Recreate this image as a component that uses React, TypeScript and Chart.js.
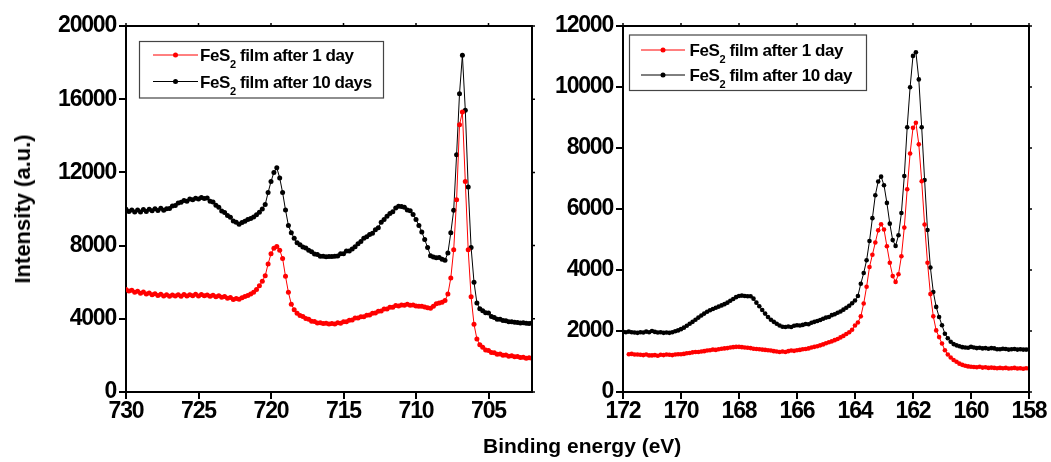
import React, { useEffect, useRef } from 'react';
import { Chart, registerables } from 'chart.js';

Chart.register(...registerables);

const FONT = '"Liberation Sans", Arial, Helvetica, sans-serif';

// ---------- Data: Fe 2p region (left), energy grid 730 -> 702 eV, 0.2 eV step ----------
const LEFT_ENERGY_START = 730;
const LEFT_ENERGY_STEP = 0.2;
const LEFT_X_TICKS = [730, 725, 720, 715, 710, 705];
const LEFT_Y_TICKS = [0, 4000, 8000, 12000, 16000, 20000];

const leftDay1 = [
  5600, 5520, 5560, 5450, 5500, 5400, 5460, 5360, 5410, 5320,
  5370, 5280, 5340, 5250, 5320, 5230, 5300, 5250, 5310, 5230,
  5330, 5250, 5320, 5260, 5340, 5250, 5330, 5260, 5300, 5230,
  5290, 5200, 5260, 5180, 5220, 5120, 5160, 5060, 5110, 5070,
  5150, 5220, 5280, 5360, 5450, 5600, 5800, 6050, 6350, 7000,
  7550, 7850, 7950, 7750, 7300, 6320, 5450, 4800, 4500, 4300,
  4180, 4120, 4010, 3970, 3860, 3850, 3770, 3790, 3740, 3760,
  3710, 3750, 3720, 3780, 3760, 3840, 3840, 3920, 3930, 4040,
  4040, 4110, 4110, 4200, 4210, 4300, 4320, 4410, 4430, 4540,
  4540, 4630, 4630, 4720, 4700, 4760, 4740, 4790, 4740, 4760,
  4700, 4690, 4680, 4640, 4600, 4580, 4680, 4820, 4860, 4900,
  5000, 5350, 6230, 7780, 10500, 14600, 15300, 11500, 7780, 5200,
  3700, 2900, 2580, 2440, 2300, 2270, 2160, 2140, 2060, 2070,
  2010, 2020, 1960, 1980, 1920, 1940, 1880, 1900, 1850, 1870,
  1840,
];

const leftDay10 = [
  9980, 9870, 9950, 9840, 9940, 9830, 9970, 9870, 9990, 9900,
  10020, 9920, 10040, 9930, 10010, 10030, 10160, 10190, 10330, 10370,
  10470, 10430, 10540, 10500, 10590, 10540, 10630, 10580, 10600, 10420,
  10380, 10200, 10090, 9890, 9810, 9650, 9550, 9350, 9280, 9170,
  9260, 9330, 9420, 9480, 9560, 9680, 9820, 10000, 10240, 10900,
  11500, 12000, 12250, 11700, 10900, 9950, 9100, 8700, 8400, 8150,
  8050, 7920, 7870, 7740, 7670, 7540, 7520, 7420, 7420, 7390,
  7400, 7400, 7420, 7430, 7550, 7560, 7710, 7710, 7820, 7940,
  8100, 8230, 8400, 8480, 8610, 8680, 8870, 8980, 9270, 9430,
  9600, 9750, 9850, 10050, 10150, 10140, 10100, 9950, 9900, 9700,
  9420, 9100, 8750, 8330, 7900, 7450, 7380, 7330, 7350, 7260,
  7200, 7600, 8700, 9930, 12970, 16300, 18400, 15400, 11200, 7900,
  6000, 4870, 4550, 4440, 4330, 4320, 4130, 4070, 3980, 3980,
  3910, 3900, 3840, 3840, 3810, 3800, 3770, 3780, 3760, 3750,
  3770,
];

// ---------- Data: S 2p region (right), energy grid 172 -> 158 eV, 0.1 eV step ----------
const RIGHT_ENERGY_START = 172;
const RIGHT_ENERGY_STEP = 0.1;
const RIGHT_X_TICKS = [172, 170, 168, 166, 164, 162, 160, 158];
const RIGHT_Y_TICKS = [0, 2000, 4000, 6000, 8000, 10000, 12000];

const rightDay1 = [
  null, null, 1240, 1250, 1230, 1230, 1220, 1210, 1230, 1200,
  1200, 1210, 1190, 1220, 1210, 1230, 1220, 1210, 1230, 1240,
  1240, 1250, 1270, 1280, 1300, 1310, 1310, 1330, 1340, 1360,
  1370, 1390, 1380, 1400, 1420, 1430, 1440, 1460, 1470, 1480,
  1480, 1470, 1460, 1450, 1440, 1420, 1410, 1400, 1390, 1380,
  1370, 1360, 1340, 1330, 1310, 1330, 1310, 1340, 1360, 1350,
  1370, 1380, 1400, 1410, 1430, 1460, 1480, 1500, 1530, 1560,
  1600, 1630, 1660, 1700, 1740, 1790, 1840, 1900, 1960, 2040,
  2180, 2280, 2480, 2900, 3450, 4100, 4500, 4900, 5300, 5500,
  5330, 4780, 4240, 3800, 3610, 3860, 4450, 5390, 6650, 7820,
  8660, 8830, 8120, 6910, 5490, 4240, 3210, 2480, 2020, 1800,
  1590, 1370, 1230, 1130, 1050, 990, 930, 890, 860, 840,
  830, 820, 810, 830, 800, 810, 790, 800, 790, 780,
  790, 780, 790, 770, 780, 790, 770, 780, 760, 780,
  770,
];

const rightDay10 = [
  1970, 1960, 1980, 1960, 1950, 1940, 1960, 1950, 1980, 1960,
  2000, 1970, 1950, 1960, 1940, 1950, 1940, 1960, 1990, 2020,
  2060, 2110, 2170, 2240, 2300, 2370, 2440, 2510, 2570, 2630,
  2680, 2720, 2760, 2800, 2840, 2880, 2930, 2990, 3050, 3110,
  3150, 3160, 3150, 3140, 3140, 3060, 2930, 2810, 2690, 2570,
  2460, 2370, 2300, 2240, 2180, 2140, 2130, 2150, 2130, 2170,
  2190, 2180, 2200, 2230, 2220, 2270, 2300, 2330, 2360, 2400,
  2440, 2460, 2520, 2550, 2600, 2640, 2700, 2760, 2830, 2910,
  3000, 3150, 3550, 3900, 4320, 4950, 5700, 6450, 6900, 7060,
  6780, 6200, 5520, 4980, 4790, 5140, 5870, 7080, 8680, 9990,
  11020, 11140, 10250, 8680, 6950, 5310, 4080, 3280, 2790, 2460,
  2190, 1910, 1760, 1650, 1570, 1530, 1500, 1470, 1460, 1450,
  1480, 1460, 1440, 1450, 1430, 1440, 1420, 1440, 1430, 1400,
  1400, 1420, 1410, 1390, 1400, 1410, 1390, 1400, 1390, 1390,
  1390,
];

const LEFT_LABELS = ['FeS2 film after 1 day', 'FeS2 film after 10 days'];
const RIGHT_LABELS = ['FeS2 film after 1 day', 'FeS2 film after 10 day'];
const SERIES_COLORS = ['#ff0000', '#000000'];
const Y_TITLE = 'Intensity (a.u.)';
const X_TITLE = 'Binding energy (eV)';

function makePoints(values: (number | null)[], start: number, step: number) {
  return values
    .map((v, i) => ({ x: Math.round((start - i * step) * 100) / 100, y: v }))
    .filter((p) => p.y !== null);
}

type LegendCfg = {
  x: number; y: number; w: number; h: number;
  lineX0: number; lineX1: number; textX: number; rows: number[];
  labels: string[];
};

function makeFramePlugin(legend: LegendCfg) {
  return {
    id: 'frameAndLegend',
    beforeDraw(chart: any) {
      // condensed look of the tick digits
      (chart.ctx as any).letterSpacing = '-1.2px';
    },
    afterDraw(chart: any) {
      const { ctx, chartArea: a } = chart;
      const xs = chart.scales.x;
      const ys = chart.scales.y;
      ctx.save();
      (ctx as any).letterSpacing = '0px';
      // top & right frame
      ctx.strokeStyle = '#000';
      ctx.lineWidth = 2;
      ctx.beginPath();
      ctx.moveTo(a.left - 1, a.top);
      ctx.lineTo(a.right, a.top);
      ctx.lineTo(a.right, a.bottom + 1);
      ctx.stroke();
      // small mirror ticks
      ctx.lineWidth = 1.5;
      ctx.beginPath();
      ys.ticks.forEach((t: any) => {
        const y = ys.getPixelForValue(t.value);
        ctx.moveTo(a.right, y);
        ctx.lineTo(a.right + 3, y);
      });
      xs.ticks.forEach((t: any) => {
        const x = xs.getPixelForValue(t.value);
        ctx.moveTo(x, a.top);
        ctx.lineTo(x, a.top - 3);
      });
      ctx.stroke();

      // legend box
      ctx.fillStyle = '#fff';
      ctx.fillRect(legend.x, legend.y, legend.w, legend.h);
      ctx.strokeStyle = '#444';
      ctx.lineWidth = 1.2;
      ctx.strokeRect(legend.x, legend.y, legend.w, legend.h);
      legend.labels.forEach((label, i) => {
        const cy = legend.rows[i];
        const color = SERIES_COLORS[i];
        ctx.strokeStyle = color;
        ctx.lineWidth = 1;
        ctx.beginPath();
        ctx.moveTo(legend.lineX0, cy);
        ctx.lineTo(legend.lineX1, cy);
        ctx.stroke();
        ctx.fillStyle = color;
        ctx.beginPath();
        ctx.arc((legend.lineX0 + legend.lineX1) / 2, cy, 2.5, 0, Math.PI * 2);
        ctx.fill();
        // text with subscript 2
        const main = label.slice(0, 3);
        const sub = label.slice(3, 4);
        const rest = label.slice(4);
        const base = cy + 6.3;
        ctx.fillStyle = '#000';
        ctx.textBaseline = 'alphabetic';
        ctx.textAlign = 'left';
        (ctx as any).letterSpacing = '-0.4px';
        let x = legend.textX;
        ctx.font = `bold 17px ${FONT}`;
        ctx.fillText(main, x, base);
        x += ctx.measureText(main).width;
        ctx.font = `bold 11px ${FONT}`;
        ctx.fillText(sub, x, base + 7);
        x += ctx.measureText(sub).width;
        ctx.font = `bold 17px ${FONT}`;
        ctx.fillText(rest, x, base);
      });
      ctx.restore();
    },
  };
}

function axisCommon(ticks: number[]) {
  return {
    type: 'linear' as const,
    afterBuildTicks: (s: any) => {
      s.ticks = ticks.map((v) => ({ value: v }));
    },
    grid: {
      display: true,
      drawOnChartArea: false,
      drawTicks: true,
      tickLength: 7,
      color: '#000',
      lineWidth: 2,
    },
    border: { display: true, color: '#000', width: 2 },
  };
}

function buildConfig(opts: {
  day1: (number | null)[]; day10: (number | null)[];
  start: number; step: number;
  xMin: number; xMax: number; xTicks: number[];
  yMax: number; yTicks: number[];
  yAxisWidth: number; padRight: number;
  labels: string[]; pointRadius: number;
  legend: LegendCfg;
}) {
  const tickFont = { family: FONT, size: 23, weight: 'bold' as const };
  return {
    type: 'line' as const,
    data: {
      datasets: [opts.day1, opts.day10].map((vals, i) => ({
        label: opts.labels[i],
        data: makePoints(vals, opts.start, opts.step),
        borderColor: SERIES_COLORS[i],
        backgroundColor: SERIES_COLORS[i],
        borderWidth: 1,
        pointRadius: opts.pointRadius,
        pointBorderWidth: 0,
        pointBackgroundColor: SERIES_COLORS[i],
        tension: 0,
        fill: false,
      })),
    },
    options: {
      animation: false as const,
      responsive: false,
      maintainAspectRatio: false,
      events: [],
      layout: { padding: { left: 0, right: opts.padRight, top: 26, bottom: 0 } },
      plugins: {
        legend: { display: false },
        tooltip: { enabled: false },
      },
      scales: {
        x: {
          ...axisCommon(opts.xTicks),
          min: opts.xMin,
          max: opts.xMax,
          reverse: true,
          afterFit: (s: any) => { s.height = 70; },
          ticks: {
            font: tickFont,
            color: '#000',
            padding: -1,
            maxRotation: 0,
            autoSkip: false,
            callback: (v: any) => String(v),
          },
        },
        y: {
          ...axisCommon(opts.yTicks),
          min: 0,
          max: opts.yMax,
          afterFit: (s: any) => { s.width = opts.yAxisWidth; },
          ticks: {
            font: tickFont,
            color: '#000',
            padding: 3,
            autoSkip: false,
            callback: (v: any) => String(v),
          },
        },
      },
    },
    plugins: [makeFramePlugin(opts.legend)],
  };
}

export default function App() {
  const leftRef = useRef<HTMLCanvasElement | null>(null);
  const rightRef = useRef<HTMLCanvasElement | null>(null);

  useEffect(() => {
    Chart.defaults.font.family = FONT;
    const left = new Chart(leftRef.current as HTMLCanvasElement, buildConfig({
      day1: leftDay1, day10: leftDay10,
      start: LEFT_ENERGY_START, step: LEFT_ENERGY_STEP,
      xMin: 702, xMax: 730, xTicks: LEFT_X_TICKS,
      yMax: 20000, yTicks: LEFT_Y_TICKS,
      yAxisWidth: 126, padRight: 13,
      labels: LEFT_LABELS, pointRadius: 2.5,
      legend: {
        x: 139.5, y: 41.5, w: 244, h: 56.5,
        lineX0: 153, lineX1: 198, textX: 200, rows: [55, 81.5],
        labels: LEFT_LABELS,
      },
    }) as any);
    const right = new Chart(rightRef.current as HTMLCanvasElement, buildConfig({
      day1: rightDay1, day10: rightDay10,
      start: RIGHT_ENERGY_START, step: RIGHT_ENERGY_STEP,
      xMin: 158, xMax: 172, xTicks: RIGHT_X_TICKS,
      yMax: 12000, yTicks: RIGHT_Y_TICKS,
      yAxisWidth: 78, padRight: 22,
      labels: RIGHT_LABELS, pointRadius: 2.3,
      legend: {
        x: 84.5, y: 35, w: 237, h: 55.5,
        lineX0: 96, lineX1: 140, textX: 144.5, rows: [50, 75],
        labels: RIGHT_LABELS,
      },
    }) as any);
    return () => {
      left.destroy();
      right.destroy();
    };
  }, []);

  return (
    <div style={{ position: 'absolute', left: 0, top: 0, width: 1051, height: 462, background: '#fff', overflow: 'hidden' }}>
      <canvas ref={leftRef} width={545} height={462} style={{ position: 'absolute', left: 0, top: 0 }} />
      <canvas ref={rightRef} width={506} height={462} style={{ position: 'absolute', left: 545, top: 0 }} />
      <div
        style={{
          position: 'absolute',
          left: 23,
          top: 209,
          transform: 'translate(-50%, -50%) rotate(-90deg)',
          fontFamily: FONT,
          fontWeight: 'bold',
          fontSize: 22,
          lineHeight: '26px',
          whiteSpace: 'nowrap',
          color: '#000',
        }}
      >
        {Y_TITLE}
      </div>
      <div
        style={{
          position: 'absolute',
          left: 483,
          top: 434,
          fontFamily: FONT,
          fontWeight: 'bold',
          fontSize: 21,
          lineHeight: '24px',
          whiteSpace: 'nowrap',
          color: '#000',
        }}
      >
        {X_TITLE}
      </div>
    </div>
  );
}
